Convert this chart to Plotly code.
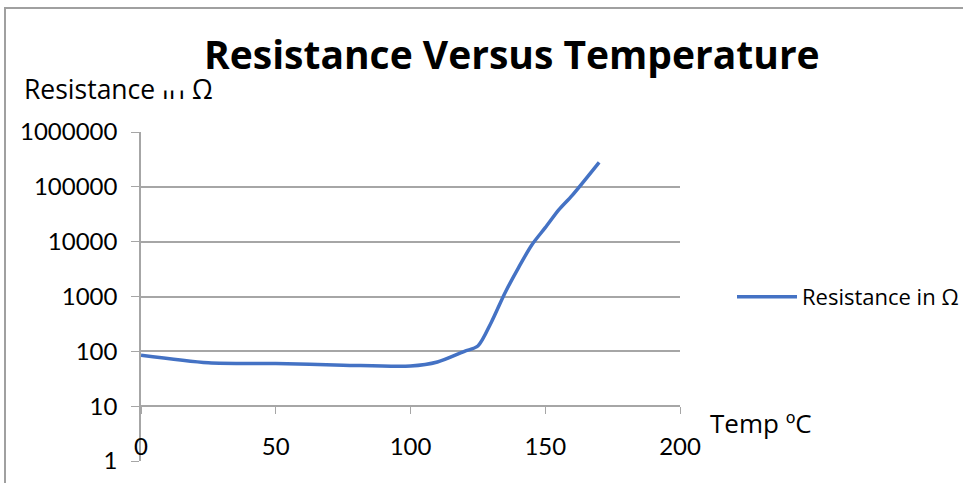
import plotly.graph_objects as go

# ---- data ----
temps = [0, 25, 50, 75, 100, 110, 120, 125, 130, 135, 140, 145, 150, 155, 160, 170]
resistance = [85, 62, 60, 56, 54, 64, 100, 125, 340, 1150, 3300, 8700, 18000, 38000, 70000, 280000]
series_name = "Resistance in \u03a9"
y_tickvals = [1, 10, 100, 1000, 10000, 100000, 1000000]
y_ticktext = ["1", "10", "100", "1000", "10000", "100000", "1000000"]
x_tickvals = [0, 50, 100, 150, 200]
title_text = "Resistance Versus Temperature"
y_title = "Resistance in \u03a9"
x_title = "Temp \u00baC"

W, H = 964, 484
L, R, T, B = 141, 680, 132, 461  # plot area pixel bounds
pw, ph = R - L, B - T

def px(xpix):
    return (xpix - L) / pw

def py(ypix):
    return (B - ypix) / ph

FONT = "Lato"
TFONT = "Open Sans"
GRID = "#a6a6a6"

fig = go.Figure()
fig.add_trace(go.Scatter(
    x=temps, y=resistance, mode="lines", name=series_name,
    line=dict(color="#4472C4", width=3.5, shape="spline", smoothing=0.8),
))

fig.update_layout(
    width=W, height=H,
    margin=dict(l=L, r=W - R, t=T, b=H - B, pad=0, autoexpand=False),
    paper_bgcolor="white", plot_bgcolor="white",
    font=dict(family=FONT, color="black", size=22),
    showlegend=True,
    legend=dict(x=px(732), y=py(297), xanchor="left", yanchor="middle",
                font=dict(size=22, family=TFONT), itemwidth=60,
                bgcolor="rgba(0,0,0,0)"),
    xaxis=dict(range=[0, 200], tickvals=x_tickvals, showgrid=False,
               anchor="free", position=1/6, showline=True, linecolor=GRID,
               linewidth=1.5, ticks="outside", ticklen=7, tickcolor=GRID,
               tickfont=dict(size=24, family=FONT), zeroline=False,
               ticklabelstandoff=12, automargin=False),
    yaxis=dict(type="log", range=[0, 6], tickvals=y_tickvals, ticktext=y_ticktext,
               showgrid=True, gridcolor=GRID, gridwidth=1.5, showline=True,
               linecolor=GRID, linewidth=1.5, ticks="outside", ticklen=8,
               tickcolor=GRID, tickfont=dict(size=24, family=FONT),
               ticklabelstandoff=9, zeroline=False, automargin=False),
    shapes=[
        dict(type="path", xref="paper", yref="paper",
             path=f"M {px(5)} {py(483)} L {px(5)} {py(8)} L {px(963)} {py(8)}",
             line=dict(color="#a0a0a0", width=2)),
    ],
    annotations=[
        dict(text=y_title, xref="paper", yref="paper", x=px(22), y=py(89),
             xanchor="left", yanchor="middle", showarrow=False,
             font=dict(size=26.5, family=TFONT)),
        dict(text=" ", xref="paper", yref="paper", x=px(174), y=py(64),
             xanchor="center", yanchor="middle", showarrow=False,
             width=26, height=50, bgcolor="white"),
        dict(text="<b>" + title_text + "</b>", xref="paper", yref="paper",
             x=px(512), y=py(54), xanchor="center", yanchor="middle",
             showarrow=False, font=dict(size=39, family=TFONT)),
        dict(text=x_title, xref="paper", yref="paper", x=px(708), y=py(423),
             xanchor="left", yanchor="middle", showarrow=False,
             font=dict(size=26, family=TFONT)),
    ],
)

fig.write_html("out.html", config={"displayModeBar": False},
               post_script="document.body.style.margin='0px';")
